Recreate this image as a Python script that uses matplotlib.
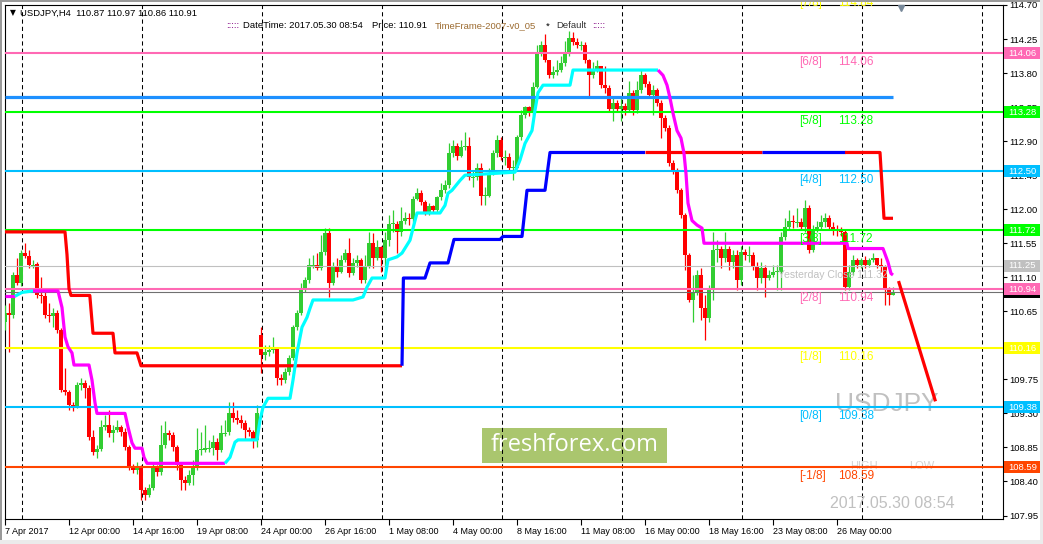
import numpy as np
import matplotlib
matplotlib.use("agg")
import matplotlib.pyplot as plt
import matplotlib.transforms as mtransforms
from matplotlib.patches import Rectangle

plt.rcParams['font.family'] = ['Liberation Sans', 'DejaVu Sans']

# ---- USDJPY H4 candles (open of each bar = previous close unless noted) ----
first_open = 110.51
gap_opens = {64: 110.34}   # weekend gap on 24 Apr
closes = [
    110.63, 110.60, 111.13, 111.03, 111.42, 111.38, 111.26, 111.27, 110.86, 110.85,
    110.60, 110.59, 110.63, 110.40, 109.61, 109.58, 109.41, 109.38, 109.67, 109.70,
    109.63, 108.99, 108.79, 108.83, 109.12, 109.15, 109.04, 109.08, 109.12, 109.05,
    108.86, 108.59, 108.55, 108.58, 108.29, 108.22, 108.31, 108.59, 108.53, 108.88,
    109.04, 109.01, 108.86, 108.62, 108.42, 108.38, 108.49, 108.59, 108.82, 108.82,
    108.84, 108.84, 108.92, 108.82, 109.04, 109.05, 109.30, 109.24, 109.21, 109.17,
    109.08, 109.05, 108.95, 109.30, 110.07, 110.11, 110.14, 110.16, 109.77, 109.74,
    109.85, 110.03, 110.44, 110.63, 110.96, 111.06, 111.26, 111.26, 111.22, 111.43,
    111.68, 111.03, 111.23, 111.17, 111.33, 111.42, 111.15, 111.29, 111.33, 111.06,
    111.23, 111.55, 111.36, 111.50, 111.35, 111.59, 111.81, 111.81, 111.70, 111.85,
    111.88, 111.87, 112.14, 112.21, 112.09, 111.96, 112.04, 111.99, 112.16, 112.25,
    112.32, 112.74, 112.84, 112.71, 112.82, 112.84, 112.42, 112.42, 112.55, 112.18,
    112.18, 112.47, 112.74, 112.91, 112.69, 112.69, 112.55, 112.55, 112.95, 113.24,
    113.35, 113.27, 113.61, 114.06, 114.17, 113.97, 113.77, 113.81, 113.84, 113.93,
    114.06, 114.27, 114.21, 114.17, 114.17, 113.97, 113.77, 113.84, 113.90, 113.64,
    113.60, 113.33, 113.40, 113.33, 113.37, 113.31, 113.54, 113.31, 113.57, 113.77,
    113.66, 113.51, 113.57, 113.41, 113.20, 113.08, 112.61, 112.51, 112.25, 111.92,
    111.39, 110.80, 110.90, 111.13, 110.70, 110.56, 110.96, 111.46, 111.48, 111.35,
    111.48, 111.30, 111.39, 111.06, 111.43, 111.39, 111.39, 111.23, 111.09, 111.22,
    111.09, 111.13, 111.17, 111.17, 111.63, 111.76, 111.85, 111.83, 111.83, 111.76,
    112.01, 111.46, 111.72, 111.76, 111.83, 111.89, 111.77, 111.72, 111.71, 111.70,
    110.97, 111.17, 111.33, 111.26, 111.33, 111.26, 111.33, 111.36, 111.26, 111.23,
    110.93, 110.87, 110.91]
highs = [
    110.73, 110.76, 111.17, 111.35, 111.46, 111.55, 111.46, 111.33, 111.30, 111.10,
    110.90, 110.76, 110.69, 110.67, 110.43, 109.90, 109.61, 109.45, 109.71, 109.77,
    109.74, 109.67, 109.08, 108.88, 109.21, 109.28, 109.34, 109.15, 109.21, 109.15,
    109.11, 108.88, 108.63, 108.66, 108.62, 108.33, 108.37, 108.66, 108.62, 109.15,
    109.20, 109.08, 109.05, 108.88, 108.66, 108.47, 108.55, 108.68, 109.11, 109.05,
    109.15, 108.95, 109.01, 108.97, 109.15, 109.21, 109.45, 109.45, 109.34, 109.28,
    109.21, 109.12, 109.08, 109.41, 110.44, 110.20, 110.20, 110.31, 110.18, 109.82,
    109.90, 110.07, 110.47, 110.67, 111.03, 111.10, 111.35, 111.39, 111.42, 111.66,
    111.75, 111.75, 111.30, 111.35, 111.39, 111.48, 111.62, 111.35, 111.39, 111.35,
    111.39, 111.70, 111.68, 111.59, 111.52, 111.70, 111.92, 111.99, 111.85, 112.03,
    111.96, 111.95, 112.18, 112.28, 112.25, 112.12, 112.08, 112.05, 112.18, 112.34,
    112.38, 112.87, 112.91, 112.87, 112.91, 113.02, 112.95, 112.51, 112.61, 112.61,
    112.30, 112.55, 112.78, 112.98, 112.95, 112.78, 112.74, 112.65, 112.98, 113.31,
    113.37, 113.37, 113.68, 114.17, 114.23, 114.31, 113.97, 113.90, 113.97, 114.03,
    114.23, 114.36, 114.34, 114.26, 114.23, 114.21, 113.99, 113.94, 113.97, 113.90,
    113.90, 113.64, 113.47, 113.44, 113.47, 113.41, 113.70, 113.57, 113.70, 113.84,
    113.80, 113.70, 113.64, 113.60, 113.44, 113.24, 113.11, 112.65, 112.54, 112.28,
    111.95, 111.42, 111.13, 111.19, 111.22, 110.86, 111.00, 111.70, 111.59, 111.52,
    111.70, 111.52, 111.46, 111.46, 111.52, 111.48, 111.52, 111.43, 111.30, 111.30,
    111.26, 111.19, 111.26, 111.26, 111.70, 111.89, 111.99, 111.92, 112.01, 111.88,
    112.12, 112.05, 111.79, 111.85, 111.92, 111.95, 111.92, 111.83, 111.79, 111.77,
    111.72, 111.26, 111.39, 111.35, 111.36, 111.38, 111.36, 111.42, 111.36, 111.35,
    111.26, 110.97, 110.97]
lows = [
    110.40, 110.11, 110.56, 111.00, 110.98, 111.35, 111.22, 111.22, 110.82, 110.76,
    110.56, 110.51, 110.44, 110.36, 109.58, 109.54, 109.34, 109.33, 109.37, 109.61,
    109.50, 108.95, 108.75, 108.71, 108.80, 109.08, 108.99, 108.92, 109.05, 109.00,
    108.82, 108.55, 108.51, 108.50, 108.16, 108.16, 108.20, 108.29, 108.47, 108.49,
    108.84, 108.95, 108.80, 108.55, 108.29, 108.29, 108.35, 108.35, 108.55, 108.75,
    108.79, 108.79, 108.75, 108.68, 108.79, 109.00, 109.01, 109.19, 109.16, 109.11,
    108.95, 109.00, 108.84, 108.86, 109.83, 110.00, 110.06, 110.10, 109.67, 109.67,
    109.70, 109.81, 110.00, 110.40, 110.60, 110.90, 111.02, 111.22, 111.19, 111.19,
    111.39, 110.84, 111.00, 111.11, 111.15, 111.30, 111.11, 111.13, 111.23, 111.02,
    111.02, 111.22, 111.22, 111.33, 111.17, 111.19, 111.52, 111.70, 111.42, 111.64,
    111.80, 111.79, 111.83, 112.12, 112.05, 111.92, 111.93, 111.95, 111.96, 112.12,
    112.22, 112.28, 112.69, 112.65, 112.69, 112.78, 112.38, 112.29, 112.38, 112.05,
    112.05, 112.16, 112.45, 112.69, 112.65, 112.58, 112.51, 112.38, 112.54, 112.91,
    113.20, 113.23, 113.24, 113.60, 114.03, 113.94, 113.73, 113.73, 113.77, 113.81,
    113.89, 114.03, 114.17, 114.13, 114.10, 113.93, 113.48, 113.73, 113.81, 113.60,
    113.53, 113.28, 113.17, 113.28, 113.17, 113.24, 113.28, 113.24, 113.27, 113.54,
    113.62, 113.47, 113.24, 113.37, 112.94, 113.04, 112.57, 112.47, 112.21, 111.88,
    111.19, 110.77, 110.51, 110.86, 110.53, 110.27, 110.51, 110.80, 111.30, 111.22,
    111.30, 111.19, 111.22, 110.93, 111.00, 111.33, 111.30, 111.19, 110.93, 111.02,
    110.84, 111.06, 111.10, 110.93, 110.93, 111.59, 111.72, 111.75, 111.77, 111.72,
    111.70, 111.42, 111.43, 111.70, 111.72, 111.77, 111.73, 111.66, 111.64, 111.64,
    110.93, 110.93, 111.13, 111.22, 111.22, 111.22, 111.23, 111.30, 111.22, 111.17,
    110.73, 110.73, 110.86]

# ---- Murrey Math levels ----
mm_names = ["[-1/8]", "[0/8]", "[1/8]", "[2/8]", "[3/8]", "[4/8]", "[5/8]", "[6/8]", "[7/8]"]
mm_levels = [108.59, 109.38, 110.16, 110.94, 111.72, 112.50, 113.28, 114.06, 114.84]
mm_colors = ["#FF4500", "#00BFFF", "#FFFF00", "#FF69B4", "#00FF00",
             "#00BFFF", "#00FF00", "#FF69B4", "#FFFF00"]
yesterday_close = 111.25
yesterday_label = 111.32
bid_price = 110.91
pivot_blue = 113.48

# trailing stop line (cyan = up, magenta = down): (bar, price) vertices
trail_segments = [
    ("#FF00FF", [(0, 110.85), (2.5, 110.85)]),
    ("#00FFFF", [(2.5, 110.85), (4.25, 110.90), (7, 110.92)]),
    ("#FF00FF", [(7, 110.92), (13.25, 110.92), (14.25, 110.70), (15, 110.31), (15.75, 110.18),
                 (16.75, 110.10), (17.25, 109.94), (21, 109.94), (21.75, 109.74), (22.5, 109.44),
                 (23, 109.30), (30, 109.30), (30.75, 109.12), (31.75, 108.91), (32.5, 108.84),
                 (34.25, 108.84), (34.75, 108.72), (35.5, 108.64), (55, 108.64)]),
    ("#00FFFF", [(55, 108.64), (56.25, 108.72), (57.5, 108.92), (58.25, 108.95), (63, 108.95),
                 (63.75, 109.21), (64.5, 109.38), (65.75, 109.50), (71.25, 109.50), (72, 109.74),
                 (73, 110.10), (74.25, 110.44), (75.5, 110.57), (76.25, 110.69), (77, 110.80),
                 (87, 110.80), (89.5, 110.84), (90.5, 110.97), (91.75, 111.09), (95, 111.09),
                 (95.75, 111.33), (98, 111.37), (99.25, 111.42), (101.25, 111.59), (102.5, 111.85),
                 (103, 111.95), (108.75, 111.95), (110, 112.05), (110.75, 112.21), (111.75, 112.25),
                 (113.75, 112.38), (115, 112.45), (127.5, 112.49), (128.75, 112.65), (130, 112.87),
                 (131.75, 113.04), (132.5, 113.31), (133.25, 113.54), (134.5, 113.64),
                 (141.25, 113.64), (142, 113.84), (163.25, 113.84)]),
    ("#FF00FF", [(163.25, 113.84), (164.5, 113.77), (165.5, 113.64), (166.25, 113.47),
                 (167, 113.27), (168, 113.04), (169, 112.94), (169.75, 112.74), (170.25, 112.47),
                 (170.75, 112.08), (171.75, 111.85), (173, 111.79), (174.25, 111.75),
                 (174.75, 111.55), (210.5, 111.55), (210.75, 111.48), (219.5, 111.48),
                 (220.75, 111.30), (221.5, 111.15), (222, 111.13)]),
]

# step stop line (red = down, blue = up)
step_segments = [
    ("#FF0000", [(0, 111.70), (15, 111.70), (15.5, 111.40), (16, 110.95), (16.5, 110.86),
                 (21.2, 110.86), (22, 110.36), (27, 110.36), (27.5, 110.10), (33, 110.10),
                 (34, 109.93), (99.25, 109.93)]),
    ("#0000FF", [(99.25, 109.93), (99.6, 111.09), (105, 111.09), (106.25, 111.29),
                 (110.75, 111.29), (112.25, 111.60), (123.75, 111.60), (124.5, 111.64),
                 (129.25, 111.64), (130.5, 112.25), (135, 112.25), (136.25, 112.75), (160, 112.75)]),
    ("#FF0000", [(160, 112.75), (189.25, 112.75)]),
    ("#0000FF", [(189.25, 112.75), (210, 112.75)]),
    ("#FF0000", [(210, 112.75), (218.75, 112.75), (219.75, 111.88), (222, 111.88)]),
]

forecast_line = [(223.5, 111.03), (232.5, 109.48)]

# axes
y_ticks = [114.70, 114.25, 113.80, 113.35, 112.90, 112.45, 112.00, 111.55,
           111.10, 110.65, 110.20, 109.75, 109.30, 108.85, 108.40, 107.95]
x_tick_bars = [0, 16, 32, 48, 64, 80, 96, 112, 128, 144, 160, 176, 192, 208]
x_tick_labels = ["7 Apr 2017", "12 Apr 00:00", "14 Apr 16:00", "19 Apr 08:00", "24 Apr 00:00",
                 "26 Apr 16:00", "1 May 08:00", "4 May 00:00", "8 May 16:00", "11 May 08:00",
                 "16 May 00:00", "18 May 16:00", "23 May 08:00", "26 May 00:00"]
grid_bars = [4.25, 34.25, 64.25, 94.25, 124.25, 154.25, 184.25, 214.25, 244.25]

# price tags on the right scale (drawn in this order)
axis_tags = [(114.06, "#FF69B4"), (113.28, "#00FF00"), (112.50, "#00BFFF"), (111.72, "#00FF00"),
             (111.25, "#C0C0C0"), (110.91, "#000000"), (110.94, "#FF69B4"), (110.16, "#FFFF00"),
             (109.38, "#00BFFF"), (108.59, "#FF4500")]

W, H = 1043, 544
fig = plt.figure(figsize=(W / 100, H / 100), dpi=100)
fig.patch.set_facecolor("white")
ax = fig.add_axes([5 / W, 25 / H, 998 / W, 514 / H])
ax.set_xlim(0, 249.5)
ax.set_ylim(107.904, 114.694)

# candles
c = np.array(closes)
hi = np.array(highs)
lo = np.array(lows)
o = np.r_[first_open, c[:-1]]
for i, v in gap_opens.items():
    o[i] = v
xs = np.arange(len(c))
cols = np.where(c >= o, "#32CD32", "#FF0000")
ax.vlines(xs, lo, hi, colors=cols, lw=0.9, zorder=3)
body = c - o
flat = np.abs(body) < 0.013
ax.bar(xs, np.where(flat, 0.0132, body), bottom=np.where(flat, o - 0.0066, o),
       width=0.78, color=cols, lw=0, zorder=3)

# grid
for g in grid_bars:
    ax.axvline(g, color="black", lw=0.75, ls=(0, (4, 3)), zorder=1)

# levels
for name, lvl, col in zip(mm_names, mm_levels, mm_colors):
    ax.axhline(lvl, color=col, lw=1.5, zorder=4)
    ax.text(198.5, lvl - 0.12, name, color=col, fontsize=8.5, va="center", ha="left",
            zorder=6, clip_on=False)
    ax.text(208.25, lvl - 0.12, f"{lvl:.2f}", color=col, fontsize=8.5, va="center", ha="left",
            zorder=6, clip_on=False)
ax.axhline(yesterday_close, color="#C0C0C0", lw=0.8, zorder=4)
ax.axhline(bid_price, color="#707070", lw=0.8, zorder=4)
ax.text(193.25, 111.13, f"Yesterday Close {yesterday_label:.2f}", color="#C0C0C0",
        fontsize=7.6, va="center", ha="left", zorder=6)
ax.plot([0, len(c) - 1], [pivot_blue, pivot_blue], color="#1E90FF", lw=2.3,
        solid_capstyle="butt", zorder=5)

for col, pts in step_segments + trail_segments:
    px, py = zip(*pts)
    ax.plot(px, py, color=col, lw=2.3, solid_capstyle="butt", zorder=5)
fx, fy = zip(*forecast_line)
ax.plot(fx, fy, color="#FF0000", lw=2.3, zorder=5)

# watermark texts
ax.add_patch(Rectangle((0.478, 0.1089), 0.1853, 0.0681, transform=ax.transAxes,
                       fc="#AAC66E", ec="none", zorder=0.5))
ax.text(0.5706, 0.143, "freshforex.com", transform=ax.transAxes, family=["Open Sans"],
        fontsize=17, color="white", ha="center", va="center", zorder=0.6)
ax.text(0.8317, 0.2237, "USDJPY", transform=ax.transAxes, fontsize=19, color="#C0C0C0",
        ha="left", va="center", zorder=2)
ax.text(0.8267, 0.0292, "2017.05.30 08:54", transform=ax.transAxes, fontsize=11.5,
        color="#C0C0C0", ha="left", va="center", zorder=2)
ax.text(0.8467, 0.1031, "HIGH", transform=ax.transAxes, fontsize=8, color="#D3D3D3",
        ha="left", va="center", zorder=2)
ax.text(0.9058, 0.1031, "LOW", transform=ax.transAxes, fontsize=8, color="#D3D3D3",
        ha="left", va="center", zorder=2)
ax.plot([0.8978], [0.994], marker="v", color="#778899", ms=5, transform=ax.transAxes,
        clip_on=False, zorder=6)

# axes styling
ax.yaxis.tick_right()
ax.set_yticks(y_ticks)
ax.set_yticklabels([f"{v:.2f}" for v in y_ticks])
ax.tick_params(axis="y", direction="out", length=3, width=0.8, pad=1.5, labelsize=6.8)
ax.set_xticks(x_tick_bars)
ax.set_xticklabels(x_tick_labels, ha="left")
ax.tick_params(axis="x", direction="out", length=4, width=0.8, pad=2, labelsize=6.5)
for s in ax.spines.values():
    s.set_color("black")
    s.set_linewidth(0.8)

trans = mtransforms.blended_transform_factory(ax.transAxes, ax.transData)
for k, (lvl, col) in enumerate(axis_tags):
    z = 7 + k * 0.01
    ax.add_patch(Rectangle((1.0008, lvl - 0.079), 0.0365, 0.158, transform=trans,
                           fc=col, ec="none", clip_on=False, zorder=z))
    ax.text(1.005, lvl, f"{lvl:.2f}", transform=trans, color="white", fontsize=6.8,
            va="center", ha="left", clip_on=False, zorder=z + 0.005)

# header
def fxy(px, py):
    return px / W, 1 - py / H

fig.text(*fxy(10, 13), "\u25bc", fontsize=5.5, va="center", family=["DejaVu Sans"])
fig.text(*fxy(20, 13), f"USDJPY,H4  {o[-1]:.2f} {hi[-1]:.2f} {lo[-1]:.2f} {c[-1]:.2f}",
         fontsize=6.8, va="center")
fig.text(*fxy(226, 26), ":::::", fontsize=6.8, va="center", color="#800080")
fig.text(*fxy(243, 26), "DateTime: 2017.05.30 08:54", fontsize=6.8, va="center")
fig.text(*fxy(372, 26), f"Price: {c[-1]:.2f}", fontsize=6.8, va="center")
fig.text(*fxy(435, 26), "TimeFrame-2007-v0_05", fontsize=6.8, va="center", color="#9C6B30")
fig.text(*fxy(546, 26), "*", fontsize=6.8, va="center")
fig.text(*fxy(556, 26), "Default", fontsize=6.8, va="center", color="#333333")
fig.text(*fxy(592, 26), ":::::", fontsize=6.8, va="center", color="#800080")

# window frame
fig.add_artist(Rectangle((0, 1 - 2 / H), 1, 2 / H, transform=fig.transFigure, fc="#9A9A9A", ec="none"))
fig.add_artist(Rectangle((0, 0), 2 / W, 1, transform=fig.transFigure, fc="#9A9A9A", ec="none"))
fig.add_artist(Rectangle((0, 0), 1, 4 / H, transform=fig.transFigure, fc="#EBEBEB", ec="none"))
fig.add_artist(Rectangle((1 - 3 / W, 0), 3 / W, 1, transform=fig.transFigure, fc="#EBEBEB", ec="none"))

fig.savefig("out.png", dpi=100)
